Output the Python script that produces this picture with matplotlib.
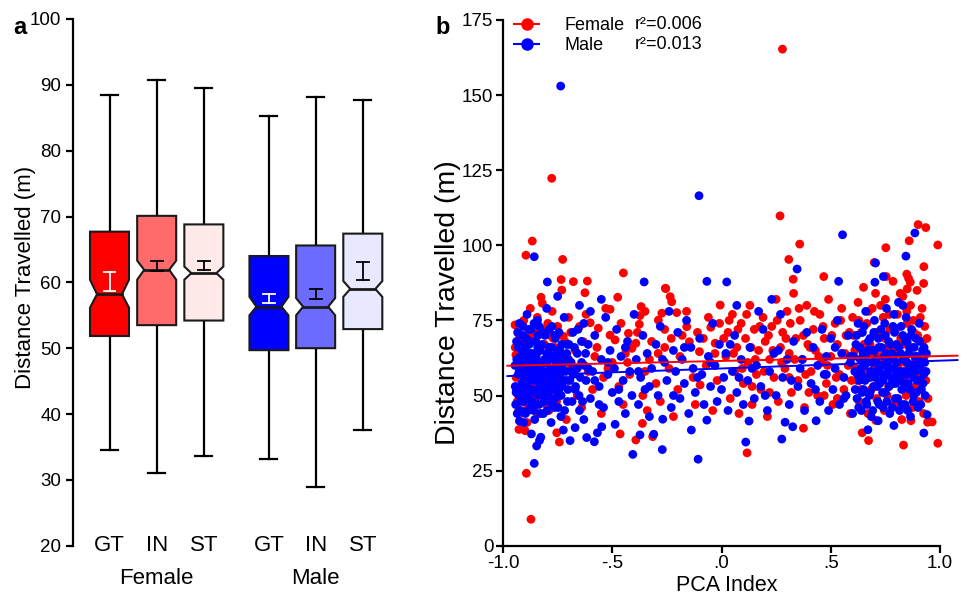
import matplotlib
matplotlib.use("Agg")
import matplotlib.pyplot as plt
from matplotlib.patches import Polygon
from matplotlib.lines import Line2D
import numpy as np

plt.rcParams['font.family'] = ['Liberation Sans', 'DejaVu Sans']

# ---- panel a: box plots ----
box_labels = ['GT', 'IN', 'ST', 'GT', 'IN', 'ST']
box_pos = [0, 1, 2, 3.38, 4.37, 5.37]
box_colors = ['#ff0000', '#ff6b6b', '#ffeaea', '#0000ff', '#6b6bff', '#e8e8ff']
whis_lo = [34.5, 31.1, 33.7, 33.2, 28.9, 37.6]
q1 = [51.85, 53.5, 54.2, 49.7, 50.0, 52.9]
med = [58.2, 61.9, 61.4, 56.3, 56.3, 59.0]
q3 = [67.7, 70.1, 68.8, 64.0, 65.6, 67.4]
whis_hi = [88.4, 90.8, 89.5, 85.3, 88.15, 87.7]
ci_lo = [56.15, 60.4, 60.4, 55.0, 55.0, 57.8]
ci_hi = [60.4, 63.3, 62.4, 57.8, 57.6, 60.2]
sem_lo = [58.7, 61.7, 61.9, 56.8, 57.4, 60.3]
sem_hi = [61.5, 63.25, 63.25, 58.2, 59.0, 63.05]
sem_colors = ['white', 'black', 'black', 'white', 'black', 'black']
groups = ['Female', 'Male']
group_pos = [1, 4.37]

# ---- panel b: scatter (PCA index, distance) ----
female_low = [(-0.872, 8.8), (-0.893, 24.1), (-0.742, 34.5), (-0.392, 35.2), (-0.315, 36.3),
              (0.117, 30.9), (0.673, 35.0), (0.644, 37.6), (0.833, 33.5), (0.99, 34.1),
              (-0.464, 37.2), (-0.362, 40.7), (-0.754, 37.6), (-0.927, 38.7), (-0.899, 38.3),
              (0.375, 39.1), (0.706, 41.7), (0.867, 41.6), (0.964, 41.2), (0.943, 41.1)]
female_high = [(-0.777, 122.3), (-0.866, 101.4), (-0.895, 96.7), (-0.727, 95.3), (-0.734, 88.6),
               (-0.678, 87.9), (-0.614, 88.1), (-0.449, 90.8), (-0.257, 85.7), (0.279, 165.3),
               (0.268, 109.8), (0.358, 100.4), (0.308, 95.3), (0.328, 88.7), (0.468, 89.6),
               (0.699, 94.3), (0.752, 99.2), (0.754, 89.6), (0.859, 101.5), (0.900, 106.9),
               (0.935, 105.9), (0.99, 100.1), (0.926, 92.9), (0.848, 90.4), (0.856, 89.0),
               (0.864, 87.7), (0.925, 87.3), (0.85, 85.5)]
female_left = [(-0.945, 73.5), (-0.93, 70.7), (-0.941, 63.5), (-0.94, 56), (-0.935, 48), (-0.92, 44),
               (-0.925, 66), (-0.91, 59), (-0.905, 75), (-0.90, 52), (-0.89, 41), (-0.885, 68),
               (-0.88, 62), (-0.875, 79), (-0.87, 47), (-0.86, 55), (-0.855, 71), (-0.85, 64),
               (-0.84, 44), (-0.835, 58), (-0.826, 82.7), (-0.82, 80.7), (-0.815, 50), (-0.81, 67),
               (-0.80, 61), (-0.795, 74), (-0.79, 45), (-0.785, 53), (-0.775, 78), (-0.77, 69),
               (-0.76, 57), (-0.755, 48), (-0.745, 63), (-0.731, 85.1), (-0.724, 69.7),
               (-0.716, 67.9), (-0.71, 42), (-0.705, 55), (-0.70, 76),
               (-0.69, 60), (-0.67, 65.1), (-0.66, 50), (-0.65, 73), (-0.64, 46), (-0.632, 67.9),
               (-0.625, 84.2), (-0.61, 58), (-0.601, 74.2), (-0.59, 52), (-0.58, 63), (-0.564, 72.4),
               (-0.55, 44), (-0.54, 56), (-0.53, 79), (-0.51, 78.7), (-0.51, 70.1), (-0.50, 61),
               (-0.487, 68.5), (-0.475, 82.7), (-0.47, 53), (-0.45, 47), (-0.44, 64), (-0.426, 70.7),
               (-0.42, 57), (-0.41, 65.7),
               (-0.944, 66), (-0.938, 52), (-0.932, 60), (-0.928, 45), (-0.918, 69), (-0.912, 50),
               (-0.906, 63), (-0.896, 57), (-0.887, 46), (-0.879, 70), (-0.869, 54), (-0.862, 61),
               (-0.852, 49), (-0.843, 76), (-0.833, 65), (-0.823, 54), (-0.813, 72), (-0.803, 47),
               (-0.793, 62), (-0.783, 70), (-0.773, 51), (-0.763, 66), (-0.75, 73), (-0.74, 55),
               (-0.72, 62), (-0.69, 71), (-0.66, 59), (-0.62, 77), (-0.57, 66), (-0.52, 59),
               (-0.46, 74), (-0.43, 61)]
female_mid = [(-0.392, 67.4), (-0.376, 73.7), (-0.373, 76.6), (-0.368, 79.6), (-0.36, 50), (-0.35, 58),
              (-0.34, 45), (-0.33, 62), (-0.289, 75.1), (-0.273, 77.4), (-0.255, 85.6), (-0.235, 82.9),
              (-0.228, 81.2), (-0.205, 77.6), (-0.30, 54), (-0.28, 48), (-0.26, 66), (-0.24, 59),
              (-0.22, 43), (-0.20, 52), (-0.18, 70), (-0.159, 72.9), (-0.147, 67.9), (-0.13, 56),
              (-0.12, 47), (-0.101, 64.6), (-0.098, 53.5), (-0.083, 69.0), (-0.07, 60), (-0.049, 72.7),
              (-0.04, 45), (-0.029, 67.4), (-0.009, 74.0), (-0.006, 80.1), (-0.02, 55),
              (0.02, 63), (0.03, 71), (0.04, 49), (0.05, 77), (0.06, 58), (0.07, 66), (0.08, 44),
              (0.09, 74), (0.10, 54), (0.11, 69), (0.12, 61), (0.13, 80), (0.14, 47), (0.15, 72),
              (0.16, 57), (0.17, 65), (0.18, 52), (0.19, 76), (0.20, 68), (0.21, 43), (0.22, 62),
              (0.23, 73), (0.24, 56), (0.25, 82), (0.26, 48), (0.27, 66), (0.28, 71), (0.29, 59),
              (0.30, 78), (0.31, 64), (0.32, 51), (0.33, 84), (0.34, 69), (0.35, 55), (0.36, 75),
              (0.37, 62), (0.38, 46), (0.39, 80), (0.395, 67),
              (0.41, 58), (0.42, 72), (0.43, 65), (0.44, 50), (0.45, 77), (0.46, 61), (0.47, 69),
              (0.48, 54), (0.49, 82), (0.50, 63), (0.51, 47), (0.52, 74), (0.53, 67), (0.54, 57),
              (0.55, 79), (0.56, 52), (0.57, 70), (0.58, 60), (0.59, 44), (0.60, 76),
              (-0.385, 71), (-0.35, 78), (-0.32, 68), (-0.29, 64), (-0.26, 72), (-0.23, 69),
              (-0.19, 63), (-0.16, 78), (-0.11, 71), (-0.06, 76), (-0.03, 64), (0.01, 69),
              (0.035, 75), (0.055, 64), (0.075, 72), (0.095, 59), (0.115, 77), (0.135, 66),
              (0.155, 62), (0.175, 73), (0.195, 58), (0.215, 70), (0.235, 65), (0.255, 75),
              (0.275, 61), (0.295, 69), (0.315, 74), (0.335, 62), (0.355, 79), (0.375, 70),
              (0.385, 57), (0.405, 66), (0.425, 78), (0.445, 63), (0.465, 73), (0.485, 60),
              (0.505, 70), (0.525, 56), (0.545, 75), (0.565, 64), (0.585, 71), (0.595, 55),
              (0.14, 53), (0.22, 51), (0.31, 56), (0.40, 51), (0.47, 50), (0.53, 49)]
female_right = [(0.61, 65), (0.62, 55), (0.625, 81), (0.63, 48), (0.64, 71), (0.645, 62), (0.65, 86),
                (0.66, 58), (0.665, 74), (0.67, 44), (0.68, 67), (0.685, 52), (0.69, 79), (0.70, 60),
                (0.705, 84), (0.71, 49), (0.72, 70), (0.725, 63), (0.73, 56), (0.74, 76), (0.745, 45),
                (0.75, 82), (0.76, 66), (0.765, 53), (0.77, 72), (0.78, 59), (0.785, 88), (0.79, 47),
                (0.80, 64), (0.805, 77), (0.81, 55), (0.82, 69), (0.825, 42), (0.83, 83), (0.84, 61),
                (0.845, 50), (0.85, 74), (0.86, 57), (0.865, 80), (0.87, 66), (0.875, 46), (0.88, 71),
                (0.89, 53), (0.895, 85), (0.90, 62), (0.905, 48), (0.91, 76), (0.915, 58), (0.92, 68),
                (0.925, 44), (0.93, 73),
                (0.603, 70), (0.615, 59), (0.628, 75), (0.638, 52), (0.652, 67), (0.663, 61),
                (0.673, 78), (0.683, 56), (0.693, 64), (0.708, 71), (0.718, 55), (0.728, 80),
                (0.738, 62), (0.748, 69), (0.758, 50), (0.768, 77), (0.778, 65), (0.788, 54),
                (0.798, 72), (0.808, 60), (0.818, 84), (0.828, 67), (0.838, 56), (0.848, 78),
                (0.858, 64), (0.868, 52), (0.878, 75), (0.888, 62), (0.898, 70), (0.908, 56),
                (0.918, 79), (0.928, 63), (0.935, 55), (0.94, 69), (0.945, 49)]

male_left = [(-0.945, 60), (-0.94, 51), (-0.938, 68), (-0.935, 44), (-0.93, 57), (-0.925, 74),
             (-0.92, 63), (-0.918, 48), (-0.915, 54), (-0.91, 70), (-0.905, 41), (-0.90, 59),
             (-0.898, 66), (-0.895, 50), (-0.89, 77), (-0.885, 45), (-0.88, 61), (-0.876, 55),
             (-0.872, 72), (-0.87, 37.2), (-0.868, 48), (-0.865, 64), (-0.86, 58), (-0.857, 96.2),
             (-0.855, 42), (-0.85, 68), (-0.846, 52), (-0.842, 75), (-0.84, 60), (-0.835, 47),
             (-0.83, 65), (-0.827, 36.1), (-0.825, 56), (-0.82, 71), (-0.815, 44), (-0.81, 62),
             (-0.806, 53), (-0.80, 79), (-0.797, 87.8), (-0.795, 49), (-0.79, 66), (-0.785, 58),
             (-0.78, 41), (-0.776, 73), (-0.772, 54), (-0.77, 63), (-0.765, 46), (-0.76, 69),
             (-0.755, 57), (-0.75, 83), (-0.745, 51), (-0.74, 65), (-0.736, 153), (-0.735, 43),
             (-0.73, 60), (-0.724, 38.5), (-0.72, 76), (-0.715, 55), (-0.71, 67), (-0.705, 48),
             (-0.70, 62), (-0.925, 41.5), (-0.833, 35.0), (-0.846, 33.2), (-0.857, 27.4),
             (-0.93, 66), (-0.91, 62), (-0.89, 56), (-0.87, 52), (-0.85, 58), (-0.83, 61),
             (-0.81, 57), (-0.79, 54), (-0.77, 59), (-0.75, 61), (-0.73, 53), (-0.88, 67),
             (-0.86, 45), (-0.84, 70), (-0.82, 50), (-0.80, 64), (-0.78, 48), (-0.76, 52), (-0.74, 57),
             (-0.944, 53), (-0.942, 47), (-0.937, 62), (-0.933, 71), (-0.928, 50), (-0.926, 58),
             (-0.922, 67), (-0.919, 45), (-0.916, 60), (-0.913, 52), (-0.911, 65), (-0.908, 73),
             (-0.906, 48), (-0.903, 56), (-0.901, 63), (-0.897, 44), (-0.894, 69), (-0.892, 53),
             (-0.888, 60), (-0.886, 49), (-0.883, 72), (-0.881, 57), (-0.878, 64), (-0.874, 46),
             (-0.871, 59), (-0.867, 68), (-0.864, 51), (-0.861, 62), (-0.858, 74), (-0.854, 55),
             (-0.851, 47), (-0.848, 63), (-0.844, 57), (-0.841, 66), (-0.838, 50), (-0.834, 73),
             (-0.831, 54), (-0.828, 44), (-0.824, 60), (-0.821, 67), (-0.818, 52), (-0.814, 58),
             (-0.811, 48), (-0.808, 70), (-0.804, 56), (-0.801, 61), (-0.798, 45), (-0.794, 64),
             (-0.791, 51), (-0.788, 72), (-0.784, 59), (-0.781, 53), (-0.778, 66), (-0.774, 47),
             (-0.771, 62), (-0.768, 56), (-0.764, 70), (-0.761, 49), (-0.758, 60), (-0.754, 65),
             (-0.751, 54), (-0.748, 46), (-0.744, 71), (-0.741, 58), (-0.738, 63), (-0.734, 50),
             (-0.731, 67), (-0.727, 55), (-0.722, 61), (-0.718, 45), (-0.713, 58), (-0.708, 64),
             (-0.703, 52), (-0.698, 67), (-0.694, 55), (-0.688, 61), (-0.684, 48), (-0.678, 57),
             (-0.673, 66), (-0.668, 53), (-0.662, 59), (-0.657, 72), (-0.652, 50), (-0.646, 56),
             (-0.641, 68), (-0.636, 48), (-0.628, 60), (-0.622, 64),
             (-0.693, 35.0), (-0.69, 58), (-0.68, 71), (-0.67, 39.3), (-0.67, 52), (-0.66, 64),
             (-0.65, 45), (-0.64, 61), (-0.63, 74), (-0.62, 55), (-0.617, 36.0), (-0.61, 67),
             (-0.60, 49), (-0.59, 58), (-0.582, 34.6), (-0.58, 70), (-0.568, 37.6), (-0.56, 53),
             (-0.55, 62), (-0.548, 39.6), (-0.54, 46), (-0.53, 76), (-0.52, 57), (-0.51, 65),
             (-0.50, 51), (-0.49, 59), (-0.487, 40.4), (-0.48, 72), (-0.47, 48), (-0.46, 63),
             (-0.45, 55), (-0.44, 44), (-0.43, 68), (-0.42, 58), (-0.41, 50), (-0.40, 77),
             (-0.65, 80), (-0.60, 78), (-0.55, 82), (-0.63, 42),
             (-0.58, 55), (-0.52, 61), (-0.47, 52), (-0.44, 66), (-0.61, 59), (-0.56, 47)]
male_mid = [(-0.406, 30.4), (-0.373, 36.9), (-0.354, 87.8), (-0.39, 62), (-0.38, 47), (-0.37, 56),
            (-0.36, 70), (-0.35, 52), (-0.34, 64), (-0.33, 43), (-0.32, 59), (-0.31, 37.1), (-0.30, 67),
            (-0.29, 50), (-0.28, 73), (-0.271, 32.0), (-0.269, 42.1), (-0.26, 61), (-0.25, 55),
            (-0.24, 78), (-0.23, 46), (-0.22, 65), (-0.21, 58), (-0.20, 71), (-0.19, 49), (-0.18, 62),
            (-0.17, 54), (-0.16, 75), (-0.138, 38.5), (-0.15, 44), (-0.14, 66), (-0.13, 59),
            (-0.12, 51), (-0.107, 28.8), (-0.103, 116.5), (-0.10, 69), (-0.09, 57), (-0.08, 47),
            (-0.067, 88.0), (-0.067, 41.8), (-0.06, 63), (-0.05, 53), (-0.04, 74), (-0.03, 60),
            (-0.02, 48), (-0.01, 67),
            (0.024, 87.8), (0.01, 56), (0.02, 64), (0.03, 45), (0.05, 58), (0.06, 70), (0.07, 51),
            (0.09, 62), (0.10, 47), (0.111, 34.5), (0.12, 55), (0.126, 41.5), (0.13, 66), (0.15, 49),
            (0.16, 60), (0.18, 53), (0.19, 72), (0.21, 45), (0.22, 58), (0.24, 64), (0.25, 50),
            (0.27, 77), (0.276, 35.5), (0.28, 56), (0.291, 41.1), (0.30, 62), (0.31, 47),
            (0.326, 39.6), (0.33, 68), (0.346, 92.1), (0.35, 53), (0.36, 59), (0.38, 45), (0.39, 71),
            (0.07, 80), (0.17, 78), (0.23, 82),
            (0.41, 54), (0.42, 66), (0.433, 41.6), (0.44, 60), (0.45, 48), (0.46, 72), (0.47, 57),
            (0.48, 63), (0.49, 45), (0.50, 69), (0.51, 52), (0.52, 59), (0.53, 75), (0.536, 88.0),
            (0.54, 47), (0.554, 103.5), (0.55, 64), (0.56, 56), (0.57, 50), (0.58, 70), (0.59, 61),
            (0.60, 44),
            (-0.38, 58), (-0.33, 53), (-0.27, 62), (-0.22, 50), (-0.17, 66), (-0.11, 56),
            (-0.05, 61), (0.00, 52), (0.04, 67), (0.08, 56), (0.14, 59), (0.20, 50), (0.26, 65),
            (0.32, 55), (0.37, 62), (0.43, 52), (0.48, 57), (0.52, 66), (0.56, 49), (0.59, 63)]
male_right = [(0.61, 58), (0.615, 67), (0.62, 49), (0.625, 74), (0.63, 55), (0.635, 62), (0.64, 45),
              (0.645, 71), (0.65, 52), (0.655, 60), (0.66, 78), (0.665, 47), (0.67, 65), (0.670, 38.6),
              (0.675, 56), (0.68, 69), (0.685, 43), (0.69, 61), (0.695, 53), (0.70, 75), (0.702, 87.7),
              (0.705, 94.1), (0.71, 58), (0.715, 48), (0.717, 41.6), (0.72, 66), (0.725, 54),
              (0.73, 72), (0.735, 60), (0.741, 89.6), (0.74, 46), (0.745, 63), (0.75, 51), (0.755, 79),
              (0.76, 57), (0.765, 68), (0.77, 44), (0.775, 62), (0.78, 54), (0.785, 73), (0.789, 40.0),
              (0.79, 59), (0.795, 49), (0.80, 67), (0.805, 56), (0.81, 81), (0.815, 45), (0.82, 64),
              (0.825, 52), (0.83, 70), (0.835, 58), (0.84, 47), (0.844, 96.4), (0.845, 76), (0.85, 61),
              (0.855, 54), (0.86, 66), (0.865, 43), (0.87, 72), (0.875, 57), (0.885, 104.1),
              (0.88, 50), (0.885, 63), (0.89, 69), (0.895, 55), (0.90, 46), (0.905, 74), (0.91, 59),
              (0.915, 52), (0.92, 65), (0.926, 37.5), (0.925, 57), (0.93, 61), (0.941, 43.6),
              (0.64, 57), (0.66, 63), (0.68, 51), (0.72, 59), (0.74, 55), (0.76, 61), (0.78, 64),
              (0.80, 58), (0.82, 55), (0.84, 62), (0.86, 59), (0.88, 56), (0.90, 60), (0.70, 65),
              (0.75, 70), (0.85, 68), (0.79, 77), (0.83, 80),
              (0.605, 63), (0.612, 52), (0.618, 70), (0.623, 57), (0.628, 46), (0.633, 66),
              (0.638, 59), (0.643, 51), (0.648, 64), (0.652, 73), (0.657, 55), (0.662, 48),
              (0.667, 61), (0.672, 68), (0.677, 50), (0.682, 58), (0.687, 65), (0.692, 45),
              (0.697, 71), (0.703, 56), (0.708, 62), (0.712, 53), (0.718, 69), (0.722, 47),
              (0.727, 60), (0.732, 66), (0.737, 51), (0.742, 57), (0.747, 74), (0.752, 64),
              (0.757, 48), (0.762, 59), (0.767, 53), (0.772, 67), (0.777, 56), (0.782, 46),
              (0.787, 63), (0.792, 71), (0.797, 54), (0.802, 61), (0.807, 49), (0.812, 66),
              (0.817, 58), (0.822, 73), (0.827, 47), (0.832, 62), (0.837, 54), (0.842, 68),
              (0.847, 57), (0.852, 45), (0.857, 64), (0.862, 52), (0.867, 70), (0.872, 60),
              (0.877, 48), (0.882, 66), (0.887, 58), (0.892, 51), (0.897, 63), (0.902, 55),
              (0.907, 68), (0.912, 47), (0.917, 61), (0.922, 54), (0.927, 66), (0.932, 50),
              (0.936, 58), (0.938, 64)]

# fitted lines
fit_x = [-0.98, 1.08]
female_fit = (61.5, 1.63)   # intercept, slope
male_fit = (59.0, 2.6)
female_r2 = 'r\u00b2=0.006'
male_r2 = 'r\u00b2=0.013'

fig = plt.figure(figsize=(9.74, 5.95), dpi=100)

# ---------------- panel a ----------------
ax1 = fig.add_axes([73 / 974, 49.3 / 595, 320 / 974, 526.7 / 595])
bw = 0.827
inset = 0.148
for i, p in enumerate(box_pos):
    l, r = p - bw / 2, p + bw / 2
    verts = [(l, q1[i]), (r, q1[i]), (r, ci_lo[i]), (r - inset, med[i]), (r, ci_hi[i]),
             (r, q3[i]), (l, q3[i]), (l, ci_hi[i]), (l + inset, med[i]), (l, ci_lo[i])]
    ax1.add_patch(Polygon(verts, closed=True, facecolor=box_colors[i],
                          edgecolor='#1a1a1a', lw=1.5, zorder=2))
    ax1.plot([l + inset, r - inset], [med[i], med[i]], color='#1a1a1a', lw=2, zorder=3)
    ax1.plot([p, p], [q3[i], whis_hi[i]], color='black', lw=1.6, zorder=1)
    ax1.plot([p, p], [q1[i], whis_lo[i]], color='black', lw=1.6, zorder=1)
    for w in (whis_lo[i], whis_hi[i]):
        ax1.plot([p - 0.18, p + 0.18], [w, w], color='black', lw=1.6, zorder=1)
    # mean +/- sem
    c = sem_colors[i]
    ax1.plot([p, p], [sem_lo[i], sem_hi[i]], color=c, lw=1.3, zorder=4)
    for s in (sem_lo[i], sem_hi[i]):
        ax1.plot([p - 0.125, p + 0.125], [s, s], color=c, lw=1.3, zorder=4)
    ax1.text(p, 20, box_labels[i], ha='center', va='center', fontsize=16)

for g, gp in zip(groups, group_pos):
    ax1.text(gp, -0.063, g, ha='center', va='center', fontsize=16,
             transform=ax1.get_xaxis_transform())

ax1.set_xlim(-0.774, 6.01)
ax1.set_ylim(20, 100)
ax1.set_yticks(np.arange(20, 101, 10))
ax1.set_xticks([])
for sp in ['top', 'right', 'bottom']:
    ax1.spines[sp].set_visible(False)
ax1.spines['left'].set_linewidth(1.6)
ax1.tick_params(axis='y', labelsize=13.5, width=1.6, length=5)
ax1.set_ylabel('Distance Travelled (m)', fontsize=16)
ax1.yaxis.set_label_coords(-0.115, 0.51)

# ---------------- panel b ----------------
ax2 = fig.add_axes([503 / 974, 49.3 / 595, 437 / 974, 525.7 / 595])
fem = np.array(female_left + female_mid + female_right + female_low + female_high)
mal = np.array(male_left + male_mid + male_right)
ax2.scatter(fem[:, 0], fem[:, 1], s=40, color='#ff0000', edgecolors='none', zorder=2, clip_on=False)
ax2.scatter(mal[:, 0], mal[:, 1], s=40, color='#0000ff', edgecolors='none', zorder=3, clip_on=False)
fx = np.array(fit_x)
ax2.plot(fx, female_fit[0] + female_fit[1] * fx, color='#ff0000', lw=1.4, zorder=4, clip_on=False)
ax2.plot(fx, male_fit[0] + male_fit[1] * fx, color='#0000ff', lw=1.4, zorder=4, clip_on=False)

ax2.set_xlim(-1, 1)
ax2.set_ylim(0, 175)
ax2.set_xticks([-1, -0.5, 0, 0.5, 1])
ax2.set_xticklabels(['-1.0', '-.5', '.0', '.5', '1.0'])
ax2.set_yticks(np.arange(0, 176, 25))
for sp in ['top', 'right']:
    ax2.spines[sp].set_visible(False)
for sp in ['left', 'bottom']:
    ax2.spines[sp].set_linewidth(1.6)
ax2.tick_params(labelsize=13.5, width=1.6, length=5, pad=2)
ax2.set_ylabel('Distance Travelled (m)', fontsize=20.5)
ax2.yaxis.set_label_coords(-0.095, 0.462)
ax2.set_xlabel('PCA Index', fontsize=15.5)
ax2.xaxis.set_label_coords(0.512, -0.055)

handles = [Line2D([], [], color='#ff0000', marker='o', markersize=8, lw=1.5),
           Line2D([], [], color='#0000ff', marker='o', markersize=8, lw=1.5)]
ax2.legend(handles, ['Female', 'Male'], loc='upper left', bbox_to_anchor=(0.025, 1.005),
           frameon=False, fontsize=13, handlelength=1.4, handletextpad=1.4,
           labelspacing=0.15, borderpad=0, borderaxespad=0)
ax2.text(0.302, 0.992, female_r2, transform=ax2.transAxes, fontsize=13, va='center')
ax2.text(0.302, 0.954, male_r2, transform=ax2.transAxes, fontsize=13, va='center')

fig.text(19.5 / 974, 1 - 27 / 595, 'a', fontsize=17, fontweight='bold', ha='center', va='center')
fig.text(443 / 974, 1 - 27 / 595, 'b', fontsize=17, fontweight='bold', ha='center', va='center')

fig.savefig('out.png', dpi=100)
